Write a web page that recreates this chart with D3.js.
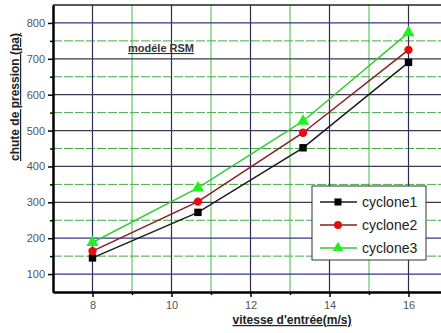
<!DOCTYPE html>
<html>
<head>
<meta charset="utf-8">
<script src="https://cdn.jsdelivr.net/npm/d3@7/dist/d3.min.js"></script>
<style>
  html, body { margin: 0; padding: 0; background: #fff; }
  svg { display: block; }
  text { font-family: "Liberation Sans", Arial, sans-serif; }
</style>
</head>
<body>
<svg id="chart" width="441" height="333"></svg>
<script>
// Inlet velocity (m/s)
const vitesse = [8, 10.67, 13.33, 16];
// Pressure drop (Pa) per cyclone
const cyclone1 = [145, 272, 452, 690];
const cyclone2 = [164, 302, 494, 725];
const cyclone3 = [188, 340, 526, 773];
const seriesNames = ["cyclone1", "cyclone2", "cyclone3"];
const xTicks = [8, 10, 12, 14, 16];
const xMinor = [9, 11, 13, 15];
const yTicks = [100, 200, 300, 400, 500, 600, 700, 800];
const yMinor = [150, 250, 350, 450, 550, 650, 750];

const series = [
  { name: seriesNames[0], values: cyclone1, line: "#1c1c1c", fill: "#000000", shape: d3.symbolSquare },
  { name: seriesNames[1], values: cyclone2, line: "#8a1e1e", fill: "#e01010", shape: d3.symbolCircle },
  { name: seriesNames[2], values: cyclone3, line: "#33cc33", fill: "#22ee22", shape: d3.symbolTriangle }
];

const svg = d3.select("#chart");
const plotLeft = 53, plotTop = 5, plotBottom = 292, plotRight = 441;

const x = d3.scaleLinear().domain([7, 17]).range([plotLeft, plotLeft + 395]);
const y = d3.scaleLinear().domain([50, 850]).range([plotBottom, plotTop]);

// Grid: minor lines (green, dashed)
const grid = svg.append("g");
grid.selectAll(".vminor").data(xMinor).join("line")
  .attr("x1", d => x(d)).attr("x2", d => x(d))
  .attr("y1", plotTop).attr("y2", plotBottom)
  .attr("stroke", "#44bb44").attr("stroke-width", 1);
grid.selectAll(".hminor").data(yMinor).join("line")
  .attr("x1", plotLeft).attr("x2", plotRight)
  .attr("y1", d => y(d)).attr("y2", d => y(d))
  .attr("stroke", "#44aa44").attr("stroke-width", 1)
  .attr("stroke-dasharray", "9,2");

// Grid: major lines
grid.selectAll(".vmajor").data(xTicks).join("line")
  .attr("x1", d => x(d)).attr("x2", d => x(d))
  .attr("y1", plotTop).attr("y2", plotBottom)
  .attr("stroke", "#2e2e55").attr("stroke-width", 1.2);
grid.selectAll(".hmajor").data(yTicks).join("line")
  .attr("x1", plotLeft).attr("x2", plotRight)
  .attr("y1", d => y(d)).attr("y2", d => y(d))
  .attr("stroke", d => (d === 800 || d <= 200) ? "#34348a" : "#3a3a55")
  .attr("stroke-width", 1.2);

// Top frame line
svg.append("line")
  .attr("x1", plotLeft).attr("x2", plotRight)
  .attr("y1", plotTop).attr("y2", plotTop)
  .attr("stroke", "#222").attr("stroke-width", 1.6);

// Axes
const yAxis = d3.axisLeft(y).tickValues(yTicks).tickSize(5).tickPadding(3).tickSizeOuter(0);
const yAxisMinor = d3.axisLeft(y).tickValues(yMinor).tickSize(3).tickFormat("").tickSizeOuter(0);
const xAxis = d3.axisBottom(x).tickValues(xTicks).tickSize(5).tickPadding(4).tickSizeOuter(0);
const xAxisMinor = d3.axisBottom(x).tickValues(xMinor).tickSize(3).tickFormat("").tickSizeOuter(0);

function styleAxis(g) {
  g.select(".domain").attr("stroke", "#000").attr("stroke-width", 2);
  g.selectAll(".tick line").attr("stroke", "#000").attr("stroke-width", 1.5);
  g.selectAll(".tick text").attr("fill", "#555").attr("font-size", 11)
    .attr("font-family", "'Liberation Sans', Arial, sans-serif");
}

svg.append("g").attr("transform", `translate(${plotLeft},0)`).call(yAxisMinor).call(styleAxis);
svg.append("g").attr("transform", `translate(${plotLeft},0)`).call(yAxis).call(styleAxis);
svg.append("g").attr("transform", `translate(0,${plotBottom})`).call(xAxisMinor).call(styleAxis);
svg.append("g").attr("transform", `translate(0,${plotBottom})`).call(xAxis).call(styleAxis);

// Series lines and markers
const lineGen = d3.line().x((d, i) => x(vitesse[i])).y(d => y(d));
series.forEach(s => {
  svg.append("path").datum(s.values)
    .attr("d", lineGen).attr("fill", "none")
    .attr("stroke", s.line).attr("stroke-width", 1.5);
  svg.append("g").selectAll("path").data(s.values).join("path")
    .attr("transform", (d, i) => `translate(${x(vitesse[i])},${y(d)})`)
    .attr("d", d3.symbol().type(s.shape).size(s.shape === d3.symbolTriangle ? 65 : 55))
    .attr("fill", s.fill);
});

// Legend
const lg = svg.append("g").attr("transform", "translate(312,186)");
lg.append("rect").attr("width", 114).attr("height", 74)
  .attr("fill", "#fff").attr("stroke", "#333").attr("stroke-width", 1);
series.forEach((s, i) => {
  const yy = 16 + i * 23;
  lg.append("line").attr("x1", 8).attr("x2", 45).attr("y1", yy).attr("y2", yy)
    .attr("stroke", s.line).attr("stroke-width", 1.5);
  lg.append("path").attr("transform", `translate(26,${yy})`)
    .attr("d", d3.symbol().type(s.shape).size(50)).attr("fill", s.fill);
  lg.append("text").attr("x", 50).attr("y", yy + 5)
    .attr("font-size", 14).attr("fill", "#222").text(s.name);
});

// Annotation
svg.append("text").attr("x", 128).attr("y", 52)
  .attr("font-size", 11).attr("font-weight", "bold").attr("fill", "#333")
  .attr("text-decoration", "underline").text("modéle RSM");

// Axis titles
svg.append("text")
  .attr("transform", "translate(19,97) rotate(-90)")
  .attr("text-anchor", "middle").attr("font-size", 12).attr("font-weight", "bold")
  .attr("fill", "#222").attr("text-decoration", "underline")
  .text("chute de pression (pa)");
svg.append("text")
  .attr("x", 292).attr("y", 324)
  .attr("text-anchor", "middle").attr("font-size", 12).attr("font-weight", "bold")
  .attr("fill", "#222").attr("text-decoration", "underline")
  .text("vitesse d'entrée(m/s)");
</script>
</body>
</html>
